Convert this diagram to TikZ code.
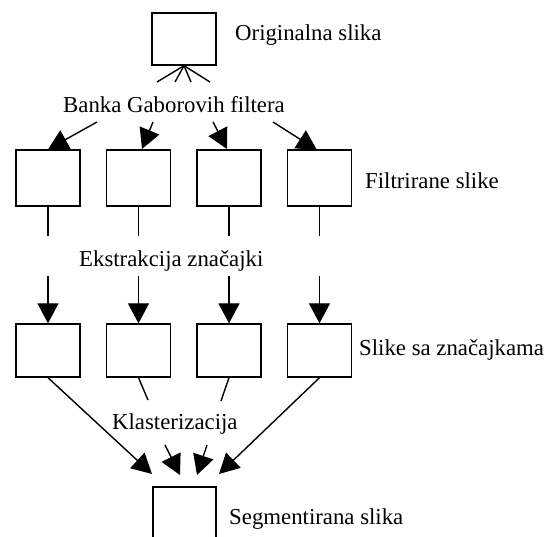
\documentclass[tikz,border=0pt]{standalone}
\usepackage{fontspec}
\setmainfont{Liberation Serif}
\usetikzlibrary{arrows.meta}
\begin{document}
\begin{tikzpicture}[x=1pt,y=-1pt,
  box/.style={draw, line width=1.4pt, minimum width=64pt, inner sep=0pt},
  lab/.style={anchor=base west, inner sep=0pt, font=\fontsize{22.8}{26}\selectfont},
  arr/.style={-{Triangle[length=20pt,width=21pt]}, line width=1.4pt},
  ln/.style={line width=1.4pt}]
\clip (0,0) rectangle (550,537);
\useasboundingbox (0,0) rectangle (550,537);
% boxes
\node[box, minimum height=52pt] (top) at (184,39) {};
\foreach \i/\x in {1/48,2/138.5,3/229,4/319.5}{
  \node[box, minimum height=56pt] (f\i) at (\x,178) {};
  \node[box, minimum height=53pt] (g\i) at (\x,350.5) {};
}
\node[box, minimum height=60pt, minimum width=63pt] (seg) at (184.5,517) {};
% labels
\node[lab] (lorig) at (235,41) {Originalna slika};
\node[lab] (lbank) at (63,113) {Banka Gaborovih filtera};
\node[lab] (lfilt) at (365,189) {Filtrirane slike};
\node[lab] (lext) at (79,267) {Ekstrakcija značajki};
\node[lab] (lfeat) at (359,356) {Slike sa značajkama};
\node[lab] (lklas) at (112,430) {Klasterizacija};
\node[lab] (lseg) at (229,525) {Segmentirana slika};
% fan lines from original
\foreach \n/\x in {1/157,2/175,3/191,4/210}{
  \coordinate (fan\n) at (\x,82);
  \draw[ln] (top.south) -- (fan\n);
}
% bank arrows
\coordinate (b1) at (97,122);
\coordinate (b2) at (153,122);
\coordinate (b3) at (213,122);
\coordinate (b4) at (273,122);
\coordinate (t2) at (142,149);
\coordinate (t3) at (227,149);
\coordinate (t4) at (317,150);
\draw[arr] (b1) -- (f1.north);
\draw[arr] (b2) -- (t2);
\draw[arr] (b3) -- (t3);
\draw[arr] (b4) -- (t4);
% extraction
\foreach \i/\x in {1/48,2/138.5,3/229,4/319.5}{
  \coordinate (e\i) at (\x,236);
  \coordinate (s\i) at (\x,276);
  \draw[ln] (f\i.south) -- (e\i);
  \draw[arr] (s\i) -- (g\i.north);
}
% clustering
\coordinate (k2) at (148,400);
\coordinate (k3) at (221,401);
\draw[ln] (g2.south) -- (k2);
\draw[ln] (g3.south) -- (k3);
\coordinate (a1) at (152,474);
\coordinate (a4) at (219,474);
\draw[arr] (g1.south) -- (a1);
\draw[arr] (g4.south) -- (a4);
\coordinate (c2) at (165,445);
\coordinate (c3) at (207,445);
\coordinate (d2) at (180,475);
\coordinate (d3) at (197,475);
\draw[arr] (c2) -- (d2);
\draw[arr] (c3) -- (d3);
\end{tikzpicture}
\end{document}
